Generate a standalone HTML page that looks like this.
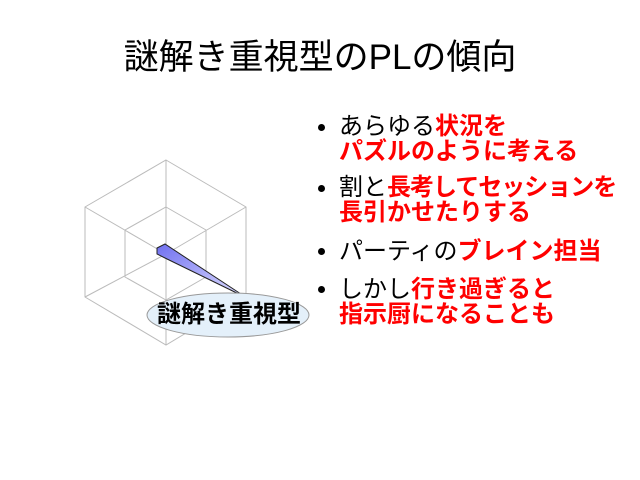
<!DOCTYPE html>
<html><head><meta charset="utf-8"><style>
body{margin:0;width:640px;height:480px;background:#fff;position:relative;overflow:hidden;font-family:"Liberation Sans","Noto Sans CJK JP",sans-serif;}
.t{position:absolute;left:0;width:640px;text-align:center;top:36px;font-size:35px;line-height:44px;color:#000;}
.l{position:absolute;left:339px;font-size:24px;line-height:26px;white-space:nowrap;color:#000;}
.r{color:#f00;font-weight:bold;}
.b{position:absolute;left:318px;width:7px;height:7px;border-radius:50%;background:#000;}
</style></head><body>
<div class="t">謎解き重視型のPLの傾向</div>
<svg width="640" height="480" style="position:absolute;left:0;top:0">
<defs><linearGradient id="g" x1="0" y1="0" x2="1" y2="1"><stop offset="0" stop-color="#7070f0"/><stop offset="1" stop-color="#e0e0ff"/></linearGradient></defs>
<g stroke="#bbb" stroke-width="1" fill="none">
<polygon points="166,160 246,207 246,297 166,345 85,297 85,207"/>
<polygon points="166,207 206,230 206,277 166,300 125,277 125,230"/>
<line x1="166" y1="254" x2="166" y2="160"/><line x1="166" y1="254" x2="246" y2="207"/><line x1="166" y1="254" x2="246" y2="297"/>
<line x1="166" y1="254" x2="166" y2="345"/><line x1="166" y1="254" x2="85" y2="297"/><line x1="166" y1="254" x2="85" y2="207"/>
</g>
<polygon points="157,248 165,244 247,298 165,258 157,254" fill="url(#g)" stroke="#222" stroke-width="1"/>
<ellipse cx="228" cy="315" rx="81" ry="22" fill="#e4f0fa" stroke="#999" stroke-width="1"/>
<text x="229" y="322" text-anchor="middle" font-size="24" font-weight="bold" font-family="Liberation Sans, Noto Sans CJK JP, sans-serif">謎解き重視型</text>
</svg>
<div class="b" style="top:124px"></div>
<div class="l" style="top:114px">あらゆる<span class="r">状況を</span></div>
<div class="l" style="top:139px"><span class="r">パズルのように考える</span></div>
<div class="b" style="top:185px"></div>
<div class="l" style="top:175px">割と<span class="r" style="letter-spacing:-1px">長考してセッションを</span></div>
<div class="l" style="top:200px"><span class="r">長引かせたりする</span></div>
<div class="b" style="top:248px"></div>
<div class="l" style="top:239px">パーティの<span class="r">ブレイン担当</span></div>
<div class="b" style="top:286px"></div>
<div class="l" style="top:277px">しかし<span class="r">行き過ぎると</span></div>
<div class="l" style="top:302px"><span class="r">指示厨になることも</span></div>
</body></html>
